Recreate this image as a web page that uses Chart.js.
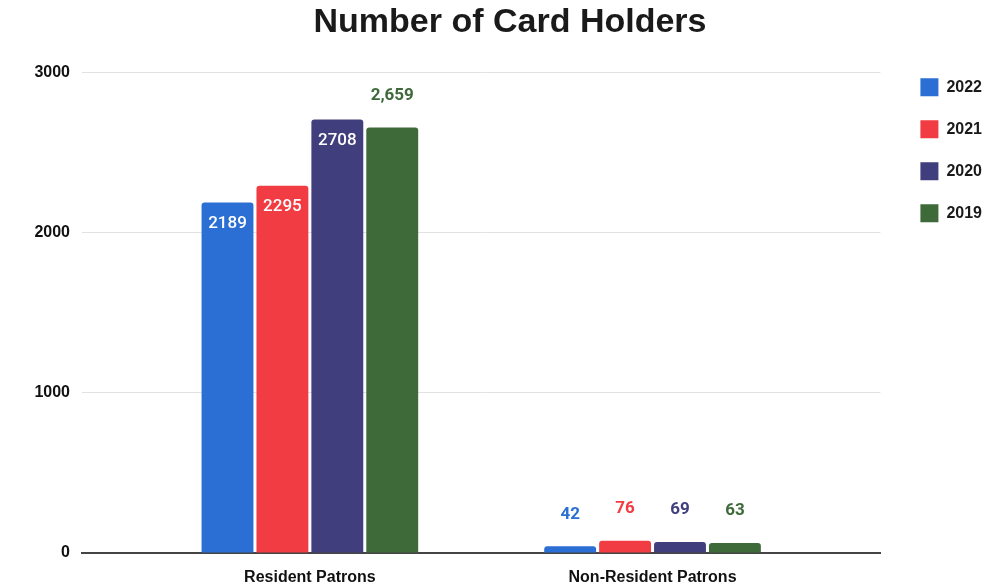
<!DOCTYPE html>
<html>
<head>
<meta charset="utf-8">
<script src="https://cdn.jsdelivr.net/npm/chart.js@4/dist/chart.umd.min.js"></script>
<style>
  body { margin: 0; background: #fff; }
  #wrap { width: 1006px; height: 587px; }
</style>
</head>
<body>
<div id="wrap"><canvas id="cards"></canvas></div>
<script>
// data
const categories = ['Resident Patrons', 'Non-Resident Patrons'];
const years = ['2022', '2021', '2020', '2019'];
const values2022 = [2189, 42];
const values2021 = [2295, 76];
const values2020 = [2708, 69];
const values2019 = [2659, 63];
const yTicks = [0, 1000, 2000, 3000];

const colors = ['#2b6fd4', '#f03c42', '#403e7c', '#3e6a3a'];
const allValues = [values2022, values2021, values2020, values2019];

// which labels sit inside the bar (the original chart is not consistent)
const insideLabel = [[true, false], [true, false], [true, false], [false, false]];
const commaLabel = [false, false, false, true];

function make_datasets() {
    return years.map((y, i) => ({
        label: y,
        data: allValues[i].map((v, j) => ({ x: j, y: v })),
        backgroundColor: colors[i],
        borderRadius: 3,
        borderSkipped: 'bottom',
        categoryPercentage: 0.641,
        barPercentage: 0.945
    }));
}

const valueLabels = {
    id: 'valueLabels',
    afterDatasetsDraw(chart) {
        const ctx = chart.ctx;
        ctx.save();
        ctx.textAlign = 'center';
        ctx.textBaseline = 'middle';
        chart.data.datasets.forEach((ds, i) => {
            const meta = chart.getDatasetMeta(i);
            meta.data.forEach((bar, j) => {
                const v = allValues[i][j];
                const text = commaLabel[i] ? v.toLocaleString('en-US') : String(v);
                if (insideLabel[i][j]) {
                    ctx.font = '500 17px Roboto';
                    ctx.fillStyle = '#ffffff';
                    ctx.fillText(text, bar.x, bar.y + 21);
                } else {
                    ctx.font = 'bold 17px Roboto';
                    ctx.fillStyle = colors[i];
                    ctx.fillText(text, bar.x, bar.y - 32);
                }
            });
        });
        ctx.restore();
    }
};

new Chart(document.getElementById('cards'), {
    type: 'bar',
    data: { datasets: make_datasets() },
    plugins: [valueLabels],
    options: {
        responsive: true,
        maintainAspectRatio: false,
        animation: false,
        layout: { padding: { left: 28, right: 14, bottom: 0 } },
        plugins: {
            title: {
                display: true,
                text: 'Number of Card Holders',
                color: '#1a1a1a',
                font: { family: 'Liberation Sans', size: 34, weight: 'bold' },
                padding: { top: 2, bottom: 30 }
            },
            legend: {
                position: 'right',
                align: 'start',
                title: {
                    display: true,
                    text: ' ',
                    font: { size: 16 },
                    padding: { top: 0, bottom: 35 }
                },
                labels: {
                    boxWidth: 18,
                    boxHeight: 18,
                    padding: 24,
                    color: '#1a1a1a',
                    font: { family: 'Liberation Sans', size: 16, weight: 'bold' }
                }
            },
            tooltip: { enabled: false }
        },
        scales: {
            x: {
                type: 'linear',
                offset: false,
                min: -0.665,
                max: 1.665,
                grid: { display: false },
                border: { color: '#444', width: 2 },
                afterFit(scale) { scale.height = 34; },
                afterBuildTicks(scale) {
                    scale.ticks = categories.map((c, i) => ({ value: i }));
                },
                ticks: {
                    padding: 7,
                    color: '#111',
                    font: { family: 'Liberation Sans', size: 16, weight: 'bold' },
                    callback: v => categories[v]
                }
            },
            y: {
                min: yTicks[0],
                max: yTicks[yTicks.length - 1],
                afterFit(scale) { scale.width = 54; },
                afterBuildTicks(scale) {
                    scale.ticks = yTicks.map(v => ({ value: v }));
                },
                grid: { color: '#e2e2e2', drawTicks: false },
                border: { display: false },
                ticks: {
                    padding: 12,
                    color: '#111',
                    font: { family: 'Liberation Sans', size: 16, weight: 'bold' },
                    callback: v => String(v)
                }
            },
            // empty right axis only keeps a gap before the legend
            gap: {
                type: 'linear',
                position: 'right',
                grid: { display: false },
                border: { display: false },
                ticks: { display: false },
                afterFit(scale) { scale.width = 16; }
            }
        }
    }
});
</script>
</body>
</html>
